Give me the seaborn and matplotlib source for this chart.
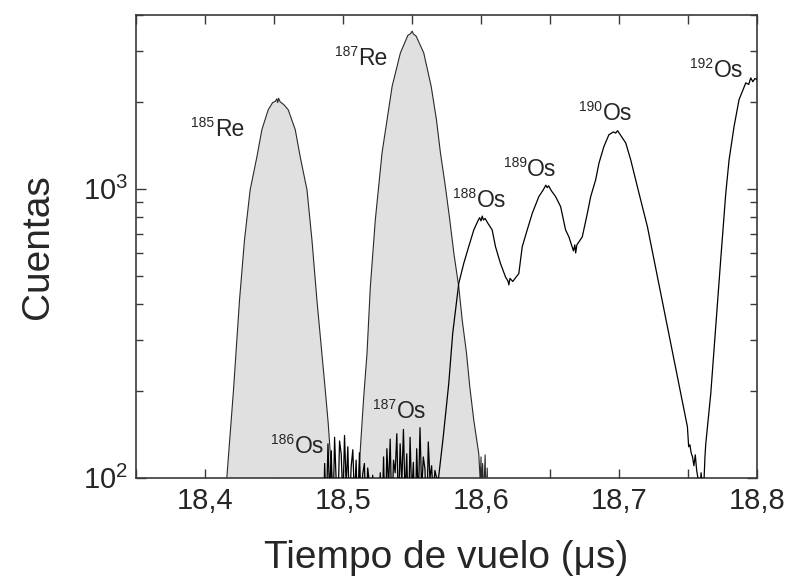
import matplotlib
matplotlib.use("Agg")
import matplotlib.pyplot as plt
import matplotlib.ticker as mticker
import matplotlib.transforms as mtransforms
import numpy as np
import pandas as pd
import seaborn as sns

# ---- spectrum data: time of flight (us) and counts ----
re185_t = [18.4123, 18.4158, 18.4206, 18.4250, 18.4286, 18.4327, 18.4376, 18.4412,
           18.4458, 18.4490, 18.4510, 18.4520, 18.4527, 18.4533, 18.4545, 18.4570,
           18.4603, 18.4654, 18.4690, 18.4739, 18.4775, 18.4811, 18.4872, 18.4893,
           18.4920, 18.4952]
re185_n = [60, 100, 200, 412, 665, 992, 1291, 1603,
           1879, 1990, 2010, 2050, 1990, 2060, 2000, 1960,
           1879, 1603, 1291, 992, 665, 412, 200, 154,
           100, 60]

re187_t = [18.5080, 18.5113, 18.5131, 18.5150, 18.5174, 18.5198, 18.5234, 18.5283,
           18.5356, 18.5416, 18.5470, 18.5490, 18.5501, 18.5510, 18.5530, 18.5585,
           18.5639, 18.5677, 18.5706, 18.5742, 18.5774, 18.5803, 18.5839, 18.5864,
           18.5895, 18.5919, 18.5948, 18.5984, 18.5995, 18.6000, 18.6005, 18.6012,
           18.6020, 18.6030, 18.6036, 18.6045, 18.6060]
re187_n = [60, 100, 138, 190, 270, 458, 780, 1334,
           2265, 2958, 3400, 3450, 3516, 3440, 3380, 2958,
           2265, 1738, 1334, 1018, 780, 600, 458, 351,
           270, 206, 158, 121, 96, 118, 90, 112,
           85, 120, 80, 108, 50]

os_t = [18.3500, 18.4850,
        # 186Os
        18.4855, 18.4867, 18.4879, 18.4891, 18.4903, 18.4915, 18.4927, 18.4939,
        18.4951, 18.4963, 18.4975, 18.4987, 18.4999, 18.5011, 18.5023, 18.5035,
        18.5047, 18.5059, 18.5071, 18.5083, 18.5095, 18.5107, 18.5119, 18.5131,
        18.5143, 18.5155, 18.5167, 18.5179, 18.5191, 18.5203, 18.5215, 18.5245,
        # 187Os
        18.5270, 18.5282, 18.5294, 18.5306, 18.5318, 18.5330, 18.5342, 18.5354,
        18.5366, 18.5378, 18.5390, 18.5402, 18.5414, 18.5426, 18.5438, 18.5450,
        18.5462, 18.5474, 18.5486, 18.5498, 18.5510, 18.5522, 18.5534, 18.5546,
        18.5558, 18.5570, 18.5582, 18.5594, 18.5606, 18.5618, 18.5630, 18.5642,
        18.5654, 18.5666, 18.5678,
        # 188Os - 190Os
        18.5692, 18.5726, 18.5766, 18.5795, 18.5839, 18.5875, 18.5911, 18.5948,
        18.5975, 18.5990, 18.6000, 18.6009, 18.6018, 18.6030, 18.6050, 18.6081,
        18.6105, 18.6141, 18.6178, 18.6195, 18.6202, 18.6210, 18.6230, 18.6274,
        18.6299, 18.6335, 18.6372, 18.6419, 18.6450, 18.6470, 18.6480, 18.6490,
        18.6510, 18.6541, 18.6577, 18.6613, 18.6637, 18.6670, 18.6680, 18.6686,
        18.6695, 18.6734, 18.6771, 18.6795, 18.6831, 18.6855, 18.6891, 18.6927,
        18.6960, 18.6976, 18.6990, 18.7049, 18.7085, 18.7145, 18.7206, 18.7254,
        18.7303, 18.7351, 18.7399, 18.7448,
        # minimum before 192Os
        18.7496, 18.7505, 18.7514, 18.7523, 18.7533, 18.7543, 18.7553, 18.7563,
        18.7575, 18.7585, 18.7595, 18.7605, 18.7617, 18.7623, 18.7629,
        # 192Os
        18.7665, 18.7701, 18.7737, 18.7774, 18.7798, 18.7834, 18.7870, 18.7919,
        18.7940, 18.7955, 18.7970, 18.7985, 18.8004]
os_n = [50, 50,
        60, 112, 75, 131, 88, 124, 70, 138,
        96, 78, 134, 121, 82, 140, 94, 128,
        75, 109, 125, 84, 115, 70, 122, 80,
        103, 112, 74, 108, 96, 70, 102, 50,
        104, 70, 118, 64, 126, 92, 136, 72,
        115, 104, 142, 76, 131, 95, 147, 86,
        121, 68, 138, 87, 113, 64, 126, 82,
        149, 90, 118, 107, 66, 133, 99, 110,
        86, 106, 100,
        99.5, 138, 211, 316, 471, 552, 631, 721,
        770, 795, 775, 805, 780, 790, 760, 721,
        631, 552, 495, 480, 465, 490, 478, 509,
        631, 721, 824, 940, 990, 1030, 1010, 1025,
        985, 940, 868, 721, 682, 610, 640, 600,
        640, 682, 824, 940, 1075, 1228, 1403, 1540,
        1575, 1560, 1590, 1442, 1261, 966, 740, 567,
        434, 333, 255, 195,
        150, 128, 130, 122, 118, 110, 120, 106,
        98, 88, 104, 92, 100, 118, 131,
        195, 333, 567, 966, 1261, 1644, 2036, 2328,
        2300, 2422, 2350, 2410, 2388]

# ---- peak labels: isotope mass, element, anchor time, anchor counts ----
lab_mass = ["185", "187", "186", "187", "188", "189", "190", "192"]
lab_elem = ["Re", "Re", "Os", "Os", "Os", "Os", "Os", "Os"]
lab_t = [18.4073, 18.5113, 18.4654, 18.5392, 18.5972, 18.6335, 18.6880, 18.7689]
lab_n = [1519, 2679, 122, 161, 868, 1110, 1738, 2443]

sns.set_style("ticks")
plt.rcParams["font.family"] = ["Liberation Sans", "DejaVu Sans"]
plt.rcParams["mathtext.fontset"] = "custom"
plt.rcParams["mathtext.rm"] = "Liberation Sans"
plt.rcParams["mathtext.it"] = "Liberation Sans:italic"
plt.rcParams["mathtext.bf"] = "Liberation Sans:bold"

fig = plt.figure(figsize=(7.89, 5.81), dpi=100)
ax = fig.add_axes([0.1724, 0.1778, 0.7870, 0.7964])
ax.set_yscale("log")

fill_col = "#e0e0e0"
edge_col = "#2a2a2a"

re185 = pd.DataFrame({"t": re185_t, "n": re185_n})
re187 = pd.DataFrame({"t": re187_t, "n": re187_n})
osdf = pd.DataFrame({"t": os_t, "n": os_n})

for df in (re185, re187):
    ax.fill_between(df["t"], df["n"], 1, color=fill_col, linewidth=0, zorder=1)
    sns.lineplot(data=df, x="t", y="n", ax=ax, color=edge_col, lw=0.8,
                 estimator=None, sort=False, zorder=2)

sns.lineplot(data=osdf, x="t", y="n", ax=ax, color="black", lw=0.9,
             estimator=None, sort=False, zorder=3)

ax.set_xlim(18.35, 18.80)
ax.set_ylim(100, 4000)

# isotope labels with superscript mass number
for m, e, t, n in zip(lab_mass, lab_elem, lab_t, lab_n):
    ax.text(t, n, e, ha="left", va="baseline", fontsize=16.5, zorder=5)
    sup = mtransforms.offset_copy(ax.transData, fig=fig, x=-0.5, y=6.5, units="points")
    ax.text(t, n, m, ha="right", va="baseline", fontsize=10, transform=sup, zorder=5)

ax.xaxis.set_major_locator(mticker.MultipleLocator(0.1))
ax.xaxis.set_minor_locator(mticker.MultipleLocator(0.05))
ax.xaxis.set_major_formatter(mticker.FuncFormatter(lambda v, p: f"{v:.1f}".replace(".", ",")))
ax.yaxis.set_major_locator(mticker.LogLocator(base=10, numticks=10))
ax.yaxis.set_minor_locator(mticker.LogLocator(base=10, subs=np.arange(2, 10), numticks=20))
ax.yaxis.set_minor_formatter(mticker.NullFormatter())

spine_col = "#3a3a3a"
for s in ax.spines.values():
    s.set_color(spine_col)
    s.set_linewidth(1.2)
    s.set_visible(True)

ax.tick_params(axis="both", which="both", direction="in", top=True, right=True,
               color=spine_col, width=1.0)
ax.tick_params(axis="x", which="both", length=6.5, pad=7, labelsize=21)
ax.tick_params(axis="y", which="major", length=7, pad=6, labelsize=21)
ax.tick_params(axis="y", which="minor", length=5)

ax.set_xlabel("Tiempo de vuelo (\u03bcs)", fontsize=28, labelpad=18)
ax.set_ylabel("Cuentas", fontsize=28, labelpad=19)

fig.savefig("out.png", dpi=100)
